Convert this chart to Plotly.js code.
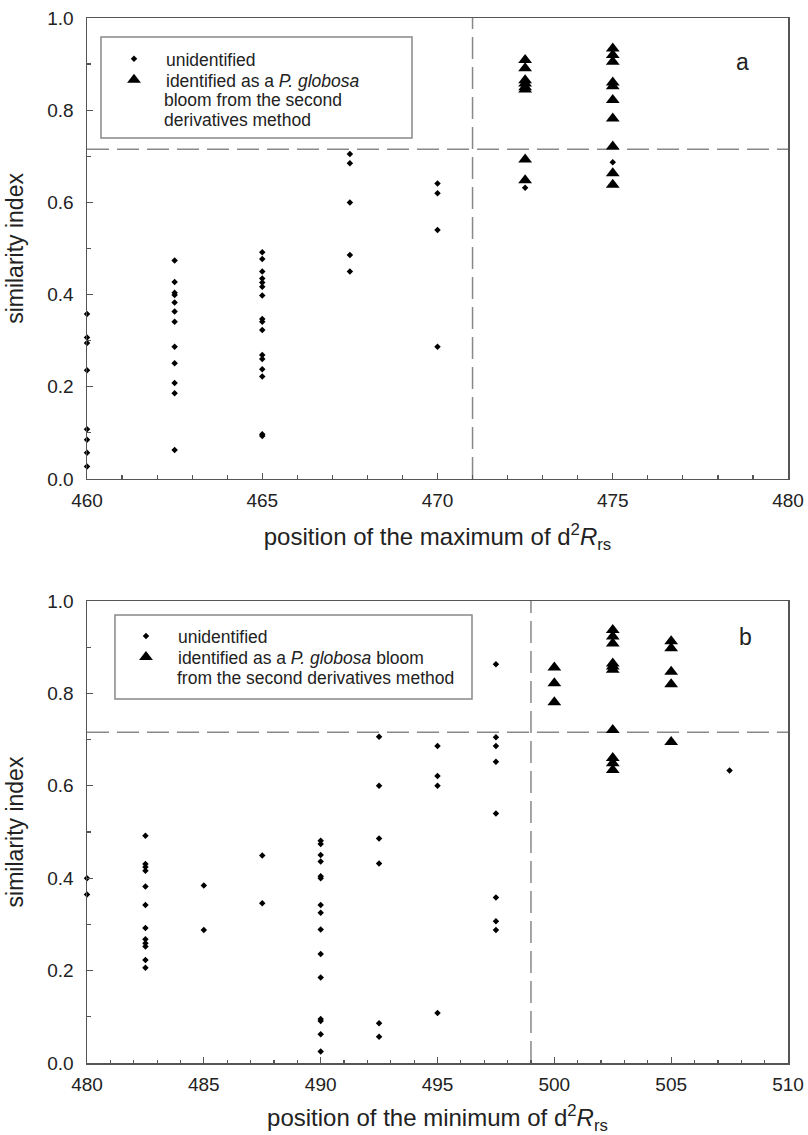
<!DOCTYPE html>
<html>
<head>
<meta charset="utf-8">
<script src="https://cdn.plot.ly/plotly-3.0.1.min.js"></script>
<style>html,body{margin:0;padding:0;background:#fff}</style>
</head>
<body>
<div id="chart" style="width:808px;height:1135px"></div>
<script>
// ---------- Panel a: position of the maximum of d2Rrs ----------
const aUnidPositions = [460, 462.5, 465, 467.5, 470, 472.5, 475];
const aUnidValues = [
  [0.358, 0.307, 0.295, 0.236, 0.108, 0.085, 0.057, 0.027],
  [0.474, 0.427, 0.404, 0.399, 0.383, 0.363, 0.341, 0.287, 0.251, 0.208, 0.186, 0.063],
  [0.492, 0.477, 0.450, 0.435, 0.426, 0.417, 0.398, 0.347, 0.341, 0.323, 0.269, 0.260, 0.238, 0.222, 0.097, 0.093],
  [0.705, 0.685, 0.600, 0.486, 0.450],
  [0.641, 0.620, 0.540, 0.287],
  [0.632],
  [0.687]
];
const aIdPositions = [472.5, 475];
const aIdValues = [
  [0.909, 0.891, 0.865, 0.858, 0.850, 0.845, 0.693, 0.648],
  [0.934, 0.920, 0.905, 0.860, 0.852, 0.822, 0.782, 0.721, 0.663, 0.638]
];
const aThresholdX = 471;
const aThresholdY = 0.715;

// ---------- Panel b: position of the minimum of d2Rrs ----------
const bUnidPositions = [480, 482.5, 485, 487.5, 490, 492.5, 495, 497.5, 507.5];
const bUnidValues = [
  [0.400, 0.365],
  [0.492, 0.431, 0.424, 0.416, 0.382, 0.342, 0.292, 0.268, 0.259, 0.252, 0.223, 0.206],
  [0.384, 0.288],
  [0.449, 0.346],
  [0.481, 0.474, 0.450, 0.436, 0.404, 0.400, 0.342, 0.325, 0.289, 0.236, 0.185, 0.095, 0.091, 0.062, 0.025],
  [0.706, 0.600, 0.486, 0.432, 0.086, 0.057],
  [0.686, 0.621, 0.600, 0.108],
  [0.863, 0.705, 0.686, 0.652, 0.540, 0.358, 0.307, 0.288],
  [0.633]
];
const bIdPositions = [500, 502.5, 505];
const bIdValues = [
  [0.856, 0.822, 0.781],
  [0.937, 0.923, 0.908, 0.865, 0.858, 0.851, 0.721, 0.660, 0.649, 0.634],
  [0.913, 0.898, 0.847, 0.820, 0.695]
];
const bThresholdX = 499;
const bThresholdY = 0.716;

const aXTicks = [460, 465, 470, 475, 480];
const bXTicks = [480, 485, 490, 495, 500, 505, 510];
const yTicks = [0, 0.2, 0.4, 0.6, 0.8, 1.0];

// legend texts (first line goes with the symbol, following lines continue below)
const nameUnid = 'unidentified';
const legendAIdLines = ['identified as a <i>P. globosa</i>', 'bloom from the second', 'derivatives method'];
const legendBIdLines = ['identified as a <i>P. globosa</i> bloom', 'from the second derivatives method'];

function flatten(positions, values) {
  const xs = [], ys = [];
  positions.forEach((p, i) => values[i].forEach(v => { xs.push(p); ys.push(v); }));
  return {x: xs, y: ys};
}

const FONT = 'Liberation Sans, Arial, Helvetica, sans-serif';
const TXT = '#222';
const LEGSIZE = 17.5;
const aU = flatten(aUnidPositions, aUnidValues);
const aI = flatten(aIdPositions, aIdValues);
const bU = flatten(bUnidPositions, bUnidValues);
const bI = flatten(bIdPositions, bIdValues);

const diamond = {symbol: 'diamond', size: 5, color: '#000', line: {width: 0}};
const tri = {symbol: 'triangle-up', size: 12, color: '#000', line: {width: 0}};

const traces = [
  {x: aU.x, y: aU.y, type: 'scatter', mode: 'markers', name: nameUnid, marker: diamond, cliponaxis: false, xaxis: 'x', yaxis: 'y', legend: 'legend'},
  {x: aI.x, y: aI.y, type: 'scatter', mode: 'markers', name: legendAIdLines[0], marker: tri, cliponaxis: false, xaxis: 'x', yaxis: 'y', legend: 'legend2'},
  {x: bU.x, y: bU.y, type: 'scatter', mode: 'markers', name: nameUnid, marker: diamond, cliponaxis: false, xaxis: 'x2', yaxis: 'y2', legend: 'legend3'},
  {x: bI.x, y: bI.y, type: 'scatter', mode: 'markers', name: legendBIdLines[0], marker: tri, cliponaxis: false, xaxis: 'x2', yaxis: 'y2', legend: 'legend4'}
];

const axisCommon = {
  showline: true, linecolor: '#555', linewidth: 1.5, mirror: true,
  showgrid: false, zeroline: false,
  ticks: 'inside', ticklen: 6, tickwidth: 1.2, tickcolor: '#555',
  tickfont: {family: FONT, size: 19, color: TXT}
};

function xAxis(range, ticks, title, anchor) {
  return Object.assign({}, axisCommon, {
    range: range, tickvals: ticks, ticktext: ticks.map(String), anchor: anchor,
    minor: {dtick: 1, ticks: 'inside', ticklen: 3.5, tickcolor: '#555', tickwidth: 1.2},
    ticklabelstandoff: 4,
    title: {text: title, font: {family: FONT, size: 24, color: TXT}, standoff: 18}
  });
}
function yAxis(domain, anchor) {
  return Object.assign({}, axisCommon, {
    range: [0, 1], domain: domain, anchor: anchor,
    tickvals: yTicks, ticktext: yTicks.map(v => v.toFixed(1)),
    minor: {dtick: 0.1, ticks: 'inside', ticklen: 3.5, tickcolor: '#555', tickwidth: 1.2},
    ticklabelstandoff: 8,
    title: {text: 'similarity index', font: {family: FONT, size: 23, color: TXT}, standoff: 17}
  });
}

const dashLine = {color: '#888', width: 1.5, dash: '22px,8px'};
function legendAt(x, y) {
  return {
    bgcolor: 'rgba(0,0,0,0)', borderwidth: 0,
    font: {family: FONT, size: LEGSIZE, color: TXT},
    itemwidth: 54, xanchor: 'left', yanchor: 'top', x: x, y: y
  };
}
function contLine(text, x, y) {
  return {text: text, xref: 'paper', yref: 'paper', x: x, y: y, xanchor: 'left', yanchor: 'middle',
          showarrow: false, borderpad: 0, borderwidth: 0, font: {family: FONT, size: LEGSIZE, color: TXT}};
}

const boxLine = {color: '#888', width: 1.5};

const layout = {
  width: 808, height: 1135,
  margin: {l: 87, r: 20, t: 18, b: 72},
  paper_bgcolor: '#fff', plot_bgcolor: '#fff',
  font: {family: FONT, color: TXT},
  xaxis: xAxis([460, 480], aXTicks, 'position of the maximum of d<sup>2</sup><i>R</i><sub>rs</sub>', 'y'),
  yaxis: yAxis([0.5589, 1], 'x'),
  xaxis2: xAxis([480, 510], bXTicks, 'position of the minimum of d<sup>2</sup><i>R</i><sub>rs</sub>', 'y2'),
  yaxis2: yAxis([0, 0.4421], 'x2'),
  legend: legendAt(0.0214, 0.9780),
  legend2: legendAt(0.0214, 0.9579),
  legend3: legendAt(0.0385, 0.4258),
  legend4: legendAt(0.0385, 0.4057),
  shapes: [
    {type: 'line', xref: 'x', yref: 'y', x0: 460, x1: 480, y0: aThresholdY, y1: aThresholdY, line: dashLine, layer: 'below'},
    {type: 'line', xref: 'x', yref: 'y', x0: aThresholdX, x1: aThresholdX, y0: 0, y1: 1, line: dashLine, layer: 'below'},
    {type: 'line', xref: 'x2', yref: 'y2', x0: 480, x1: 510, y0: bThresholdY, y1: bThresholdY, line: dashLine, layer: 'below'},
    {type: 'line', xref: 'x2', yref: 'y2', x0: bThresholdX, x1: bThresholdX, y0: 0, y1: 1, line: dashLine, layer: 'below'},
    // legend frames
    {type: 'rect', xref: 'paper', yref: 'paper', x0: 0.01997, x1: 0.4636, y0: 0.8852, y1: 0.9818, line: boxLine, fillcolor: 'rgba(0,0,0,0)'},
    {type: 'rect', xref: 'paper', yref: 'paper', x0: 0.0399, x1: 0.5492, y0: 0.3483, y1: 0.4287, line: boxLine, fillcolor: 'rgba(0,0,0,0)'}
  ],
  annotations: [
    {text: 'a', xref: 'x', yref: 'y', x: 478.7, y: 0.905, showarrow: false, font: {family: FONT, size: 23, color: TXT}},
    {text: 'b', xref: 'x2', yref: 'y2', x: 508.2, y: 0.922, showarrow: false, font: {family: FONT, size: 23, color: TXT}},
    contLine(legendAIdLines[1], 0.1098, 0.9215),
    contLine(legendAIdLines[2], 0.1098, 0.9024),
    contLine(legendBIdLines[1], 0.1284, 0.3684)
  ],
  showlegend: true
};

Plotly.newPlot('chart', traces, layout, {displayModeBar: false, staticPlot: true});
</script>
</body>
</html>
